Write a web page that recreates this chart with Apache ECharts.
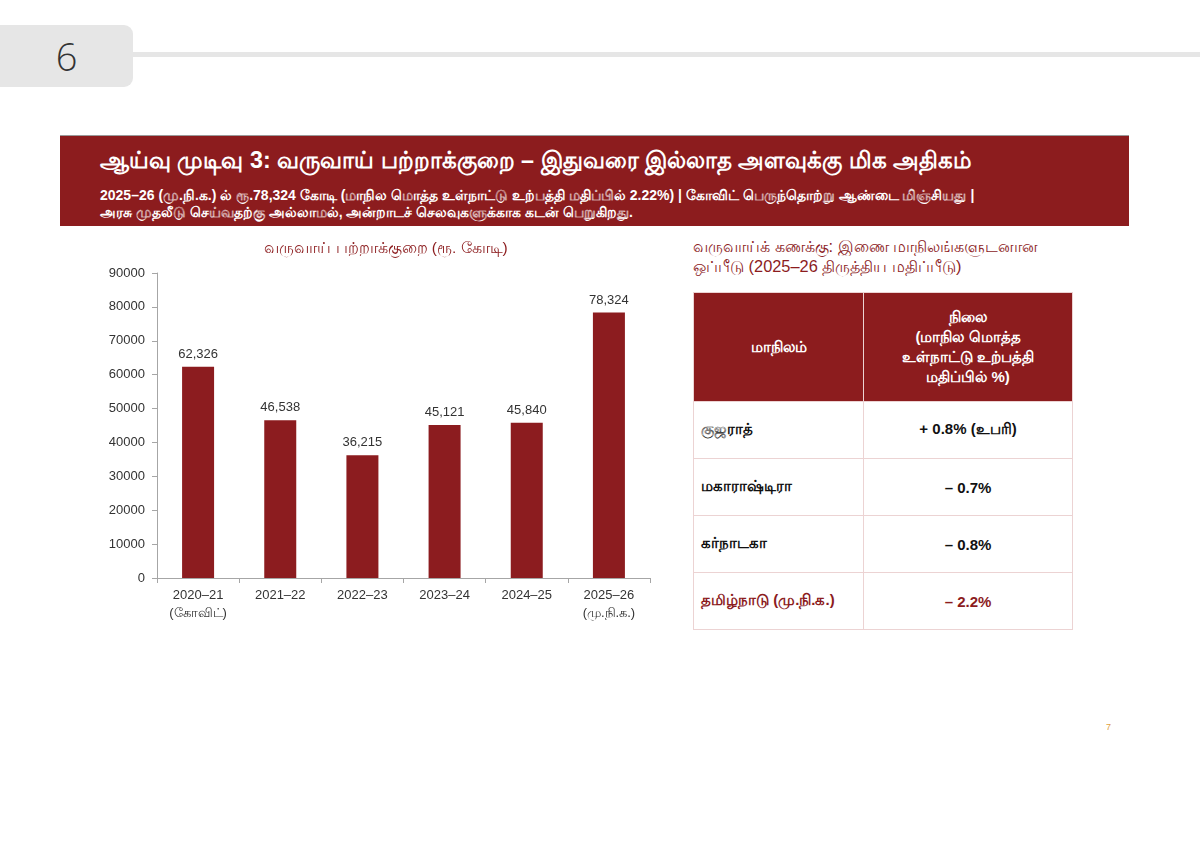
<!DOCTYPE html>
<html>
<head>
<meta charset="utf-8">
<script src="https://cdn.jsdelivr.net/npm/echarts@6/dist/echarts.min.js"></script>
<style>
  body { margin:0; width:1200px; height:841px; background:#fff; position:relative; overflow:hidden;
         font-family:"Liberation Sans","Noto Sans",Arial,sans-serif; }
  .pagebox { position:absolute; left:0; top:25px; width:133px; height:62px; background:#e6e6e6;
             border-radius:0 9px 9px 0; text-align:center; line-height:62px; font-size:38px;
             color:#333; font-family:"Open Sans","Noto Sans",sans-serif; font-weight:300; }
  .topline { position:absolute; left:133px; top:52px; width:1067px; height:5px; background:#e6e6e6; }
  .banner { position:absolute; left:60px; top:135px; width:1069px; height:91px; background:#8c1c1e;
            border-top:1px solid #9a9a9a; box-sizing:border-box; color:#fff; }
  .banner h1 { position:absolute; left:40px; top:11px; margin:0; font-size:23.3px; font-weight:bold; white-space:nowrap; }
  .banner p { position:absolute; left:40px; top:51px; margin:0; font-size:14px; font-weight:bold; line-height:17px; white-space:nowrap; }
  #chart { position:absolute; left:100px; top:230px; width:580px; height:410px; }
  .rtitle { position:absolute; left:693px; top:236px; color:#8c1c1e; font-size:16.4px; line-height:20px; white-space:nowrap; }
  table { position:absolute; left:693px; top:292px; width:380px; border-collapse:collapse; }
  td, th { border:1.5px solid #ecd3d3; font-size:15px; }
  th { background:#8c1c1e; color:#fff; font-weight:bold; height:106px; line-height:20px; }
  td { height:54px; font-weight:bold; color:#111; }
  td.s { padding-left:7px; width:161px; }
  td.v { text-align:center; }
  tr.tn td { color:#8c1c1e; }
  .pnum { position:absolute; left:1106px; top:722px; font-size:9px; color:#e0a040; }
</style>
</head>
<body>
<div class="pagebox">6</div>
<div class="topline"></div>
<div class="banner">
  <h1>ஆய்வு முடிவு 3: வருவாய் பற்றாக்குறை – இதுவரை இல்லாத அளவுக்கு மிக அதிகம்</h1>
  <p>2025–26 (மு.நி.க.) ல் ரூ.78,324 கோடி (மாநில மொத்த உள்நாட்டு உற்பத்தி மதிப்பில் 2.22%) | கோவிட் பெருந்தொற்று ஆண்டை மிஞ்சியது |<br>அரசு முதலீடு செய்வதற்கு அல்லாமல், அன்றாடச் செலவுகளுக்காக கடன் பெறுகிறது.</p>
</div>
<div id="chart"></div>
<div class="rtitle">வருவாய்க் கணக்கு: இணை மாநிலங்களுடனான<br>ஒப்பீடு (2025–26 திருத்திய மதிப்பீடு)</div>
<table>
  <tr><th>மாநிலம்</th><th>நிலை<br>(மாநில மொத்த<br>உள்நாட்டு உற்பத்தி<br>மதிப்பில் %)</th></tr>
  <tr><td class="s">குஜராத்</td><td class="v">+ 0.8% (உபரி)</td></tr>
  <tr><td class="s">மகாராஷ்டிரா</td><td class="v">– 0.7%</td></tr>
  <tr><td class="s">கர்நாடகா</td><td class="v">– 0.8%</td></tr>
  <tr class="tn"><td class="s">தமிழ்நாடு (மு.நி.க.)</td><td class="v">– 2.2%</td></tr>
</table>
<div class="pnum">7</div>
<script>
var years = ['2020–21\n(கோவிட்)', '2021–22', '2022–23', '2023–24', '2024–25', '2025–26\n(மு.நி.க.)'];
var deficit = [62326, 46538, 36215, 45121, 45840, 78324];
var yTicks = { min: 0, max: 90000, step: 10000 };

var chart = echarts.init(document.getElementById('chart'));
chart.setOption({
  animation: false,
  textStyle: { fontFamily: 'Liberation Sans, Noto Sans, Arial, sans-serif' },
  title: {
    text: 'வருவாய் பற்றாக்குறை (ரூ. கோடி)',
    left: 281, top: 6, textAlign: 'center',
    textStyle: { color: '#8c1c1e', fontSize: 15.5, fontWeight: 'normal' }
  },
  grid: { left: 57, right: 30, top: 43, bottom: 62 },
  xAxis: {
    type: 'category',
    data: years,
    axisLine: { lineStyle: { color: '#a6a6a6', width: 1 } },
    axisTick: { show: true, length: 5, lineStyle: { color: '#a6a6a6' } },
    axisLabel: { color: '#333', fontSize: 13, margin: 8, lineHeight: 18, interval: 0 }
  },
  yAxis: {
    type: 'value',
    min: yTicks.min, max: yTicks.max, interval: yTicks.step,
    axisLine: { show: true, lineStyle: { color: '#a6a6a6', width: 1 } },
    axisTick: { show: true, length: 5, lineStyle: { color: '#a6a6a6' } },
    splitLine: { show: false },
    axisLabel: { color: '#333', fontSize: 13, margin: 12, formatter: function (v) { return String(v); } }
  },
  series: [{
    type: 'bar',
    data: deficit,
    barWidth: 32,
    itemStyle: { color: '#8c1c1f' },
    label: {
      show: true, position: 'top', distance: 6,
      color: '#333', fontSize: 13,
      formatter: function (p) { return p.value.toLocaleString('en-US'); }
    }
  }]
});
</script>
</body>
</html>
